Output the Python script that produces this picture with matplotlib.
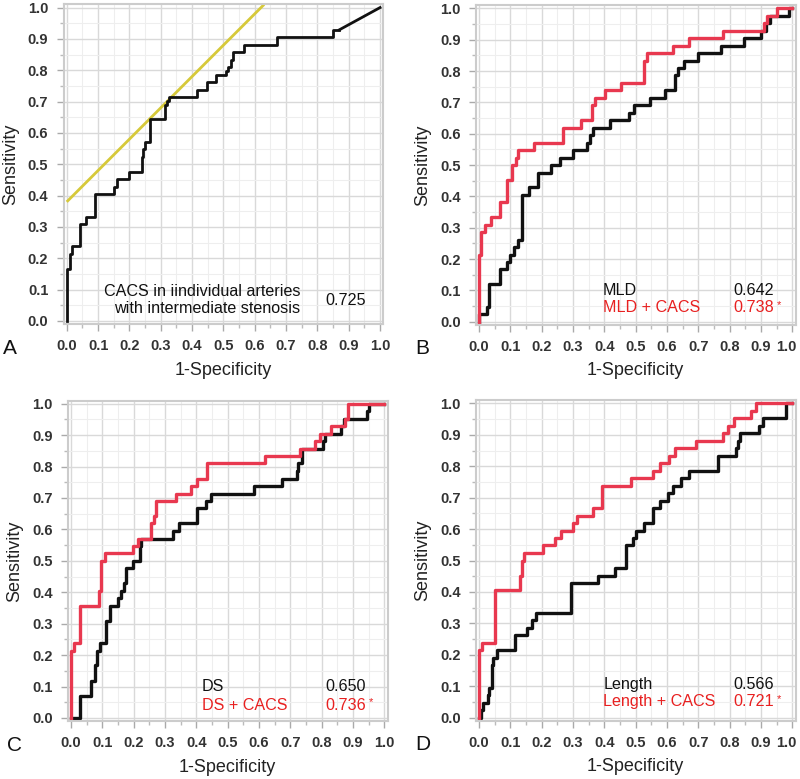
import matplotlib
matplotlib.use('Agg')
import matplotlib.pyplot as plt
from matplotlib.ticker import MultipleLocator
from matplotlib.transforms import ScaledTranslation

plt.rcParams['font.family'] = ['Liberation Sans', 'DejaVu Sans']

# Panel A: CACS alone (step vertices: x where the curve rises, new sensitivity)
a_x = [0.0, 0.0, 0.011, 0.018, 0.042, 0.062, 0.090, 0.152, 0.160, 0.199, 0.239,
       0.244, 0.250, 0.265, 0.313, 0.319, 0.327, 0.415, 0.447, 0.477, 0.507,
       0.514, 0.524, 0.532, 0.567, 0.670, 0.851, 0.870]
a_y = [0.0, 0.167, 0.214, 0.238, 0.310, 0.333, 0.405, 0.429, 0.452, 0.476, 0.524,
       0.548, 0.571, 0.643, 0.690, 0.702, 0.714, 0.738, 0.762, 0.786, 0.798,
       0.810, 0.833, 0.857, 0.881, 0.905, 0.929, 0.929]
a_tail_x = [0.870, 1.0]
a_tail_y = [0.929, 1.0]
tangent_x = [0.0, 0.63]
tangent_y = [0.38, 1.01]

# Panel B: MLD and MLD + CACS
b_x = [0.0, 0.0, 0.011, 0.024, 0.033, 0.051, 0.067, 0.088, 0.100, 0.112, 0.125,
       0.136, 0.160, 0.189, 0.231, 0.257, 0.300, 0.343, 0.355, 0.364, 0.417,
       0.480, 0.496, 0.544, 0.592, 0.624, 0.634, 0.655, 0.698, 0.772, 0.846,
       0.900, 0.915, 0.930, 0.990, 1.0]
b_y = [0.0, 0.024, 0.024, 0.048, 0.119, 0.119, 0.167, 0.190, 0.214, 0.238, 0.262,
       0.405, 0.429, 0.476, 0.500, 0.524, 0.548, 0.571, 0.595, 0.619, 0.643,
       0.667, 0.690, 0.714, 0.738, 0.786, 0.810, 0.833, 0.857, 0.881, 0.905,
       0.929, 0.952, 0.976, 1.0, 1.0]
bc_x = [0.0, 0.0, 0.006, 0.019, 0.037, 0.067, 0.088, 0.104, 0.117, 0.125, 0.175,
        0.268, 0.325, 0.359, 0.369, 0.401, 0.454, 0.528, 0.536, 0.618, 0.669,
        0.777, 0.910, 0.920, 0.935, 0.950, 1.0]
bc_y = [0.0, 0.214, 0.286, 0.310, 0.333, 0.381, 0.452, 0.500, 0.524, 0.548, 0.571,
        0.619, 0.643, 0.690, 0.714, 0.738, 0.762, 0.833, 0.857, 0.881, 0.905,
        0.929, 0.952, 0.976, 0.976, 1.0, 1.0]

# Panel C: DS and DS + CACS
c_x = [0.0, 0.029, 0.065, 0.076, 0.082, 0.092, 0.113, 0.124, 0.150, 0.160, 0.168,
       0.176, 0.197, 0.219, 0.224, 0.324, 0.345, 0.403, 0.430, 0.446, 0.583,
       0.673, 0.720, 0.725, 0.736, 0.805, 0.810, 0.863, 0.870, 0.945, 0.952, 1.0]
c_y = [0.0, 0.071, 0.119, 0.167, 0.214, 0.238, 0.310, 0.357, 0.381, 0.405, 0.429,
       0.476, 0.500, 0.548, 0.571, 0.595, 0.619, 0.667, 0.690, 0.714, 0.738,
       0.762, 0.786, 0.810, 0.857, 0.881, 0.905, 0.929, 0.952, 0.976, 1.0, 1.0]
cc_x = [0.0, 0.0, 0.010, 0.029, 0.090, 0.097, 0.108, 0.197, 0.213, 0.256, 0.264,
        0.271, 0.335, 0.382, 0.403, 0.435, 0.620, 0.731, 0.778, 0.794, 0.831,
        0.873, 0.884, 1.0]
cc_y = [0.0, 0.214, 0.238, 0.357, 0.405, 0.500, 0.524, 0.548, 0.571, 0.619, 0.643,
        0.690, 0.714, 0.738, 0.762, 0.810, 0.833, 0.857, 0.881, 0.905, 0.929,
        0.952, 1.0, 1.0]

# Panel D: Length and Length + CACS
d_x = [0.0, 0.005, 0.014, 0.027, 0.033, 0.040, 0.046, 0.056, 0.115, 0.152, 0.168,
       0.183, 0.295, 0.380, 0.433, 0.470, 0.491, 0.502, 0.528, 0.555, 0.576,
       0.602, 0.618, 0.645, 0.671, 0.761, 0.820, 0.825, 0.832, 0.894, 0.905,
       0.979, 1.0]
d_y = [0.0, 0.024, 0.048, 0.071, 0.095, 0.167, 0.190, 0.214, 0.262, 0.286, 0.310,
       0.333, 0.429, 0.452, 0.476, 0.548, 0.571, 0.595, 0.619, 0.667, 0.690,
       0.714, 0.738, 0.762, 0.786, 0.833, 0.857, 0.881, 0.905, 0.929, 0.952,
       1.0, 1.0]
dc_x = [0.0, 0.0, 0.009, 0.051, 0.130, 0.136, 0.143, 0.205, 0.242, 0.263, 0.300,
        0.311, 0.364, 0.393, 0.486, 0.555, 0.576, 0.606, 0.624, 0.692, 0.777,
        0.793, 0.814, 0.867, 0.883, 1.0]
dc_y = [0.0, 0.214, 0.238, 0.405, 0.452, 0.500, 0.524, 0.548, 0.571, 0.595, 0.619,
        0.643, 0.667, 0.738, 0.762, 0.786, 0.810, 0.833, 0.857, 0.881, 0.905,
        0.929, 0.952, 0.976, 1.0, 1.0]

BLACK = '#111111'
RED_LINE = '#e8384f'
RED_TEXT = '#e82020'
YELLOW = '#d6c93a'

fig = plt.figure(figsize=(8, 7.79), dpi=100)

rects = {
    'A': [0.0795, 0.584, 0.3995, 0.4103],
    'B': [0.5949, 0.583, 0.3995, 0.4103],
    'C': [0.0849, 0.0743, 0.3995, 0.4115],
    'D': [0.5949, 0.0747, 0.3995, 0.4115],
}


def setup(ax, letter, shift_last=False):
    ax.set_xlim(-0.01, 1.01)
    ax.set_ylim(-0.01, 1.01)
    ax.xaxis.set_minor_locator(MultipleLocator(0.05))
    ax.yaxis.set_minor_locator(MultipleLocator(0.05))
    ax.grid(which='major', color='#d9d9d9', lw=1.0)
    ax.grid(which='minor', color='#eeeeee', lw=0.8)
    ax.set_axisbelow(True)
    for s in ax.spines.values():
        s.set_color('#cccccc')
        s.set_linewidth(1.5)
    ax.tick_params(which='major', length=5, width=1, color='#aaaaaa',
                   labelsize=10.5, labelcolor='#333333', pad=6)
    ax.tick_params(which='minor', length=3, width=1, color='#bbbbbb')
    ticks = [i / 10 for i in range(11)]
    ax.set_xticks(ticks)
    ax.set_yticks(ticks)
    ax.set_xticklabels(['%.1f' % t for t in ticks], fontweight='bold')
    ax.set_yticklabels(['%.1f' % t for t in ticks], fontweight='bold')
    if shift_last:
        lbl = ax.get_xticklabels()[-1]
        lbl.set_transform(lbl.get_transform()
                          + ScaledTranslation(-6 / 100, 0, fig.dpi_scale_trans))
    ax.set_xlabel('1-Specificity', fontsize=13, color='#222222', labelpad=6)
    ax.set_ylabel('Sensitivity', fontsize=13, color='#222222', labelpad=6)
    ax.text(-0.19, -0.075, letter, transform=ax.transAxes, fontsize=15,
            color='#111111', ha='left', va='center')


# A
ax = fig.add_axes(rects['A'])
setup(ax, 'A')
ax.plot(tangent_x, tangent_y, color=YELLOW, lw=2.0, solid_capstyle='butt')
ax.plot(a_x, a_y, drawstyle='steps-post', color=BLACK, lw=2.0)
ax.plot(a_tail_x, a_tail_y, color=BLACK, lw=2.0)
ax.text(0.74, 0.075, 'CACS in iindividual arteries\nwith intermediate stenosis',
        transform=ax.transAxes, fontsize=11.6, ha='right', va='center',
        linespacing=1.2, color='#111111')
ax.text(0.82, 0.075, '0.725', transform=ax.transAxes, fontsize=11.6,
        ha='left', va='center', color='#111111')

# B, C, D
panels = [
    ('B', b_x, b_y, bc_x, bc_y, 'MLD', 'MLD + CACS', '0.642', '0.738', 0.398, 0.109, 0.053),
    ('C', c_x, c_y, cc_x, cc_y, 'DS', 'DS + CACS', '0.650', '0.736', 0.419, 0.107, 0.050),
    ('D', d_x, d_y, dc_x, dc_y, 'Length', 'Length + CACS', '0.566', '0.721', 0.399, 0.112, 0.059),
]
for letter, x1, y1, x2, y2, n1, n2, v1, v2, nx, ty1, ty2 in panels:
    ax = fig.add_axes(rects[letter])
    setup(ax, letter, shift_last=letter in ('B', 'D'))
    ax.plot(x1, y1, drawstyle='steps-post', color=BLACK, lw=2.4)
    ax.plot(x2, y2, drawstyle='steps-post', color=RED_LINE, lw=2.4)
    tr = ax.transAxes
    ax.text(nx, ty1, n1, transform=tr, fontsize=11.6, color='#111111', va='center')
    ax.text(nx, ty2, n2, transform=tr, fontsize=11.6, color=RED_TEXT, va='center')
    ax.text(0.804, ty1, v1, transform=tr, fontsize=11.6, color='#111111', va='center')
    ax.text(0.804, ty2, v2, transform=tr, fontsize=11.6, color=RED_TEXT, va='center')
    ax.text(0.94, ty2 + 0.01, '*', transform=tr, fontsize=8, color=RED_TEXT, va='center')

fig.savefig('out.png', dpi=100)
